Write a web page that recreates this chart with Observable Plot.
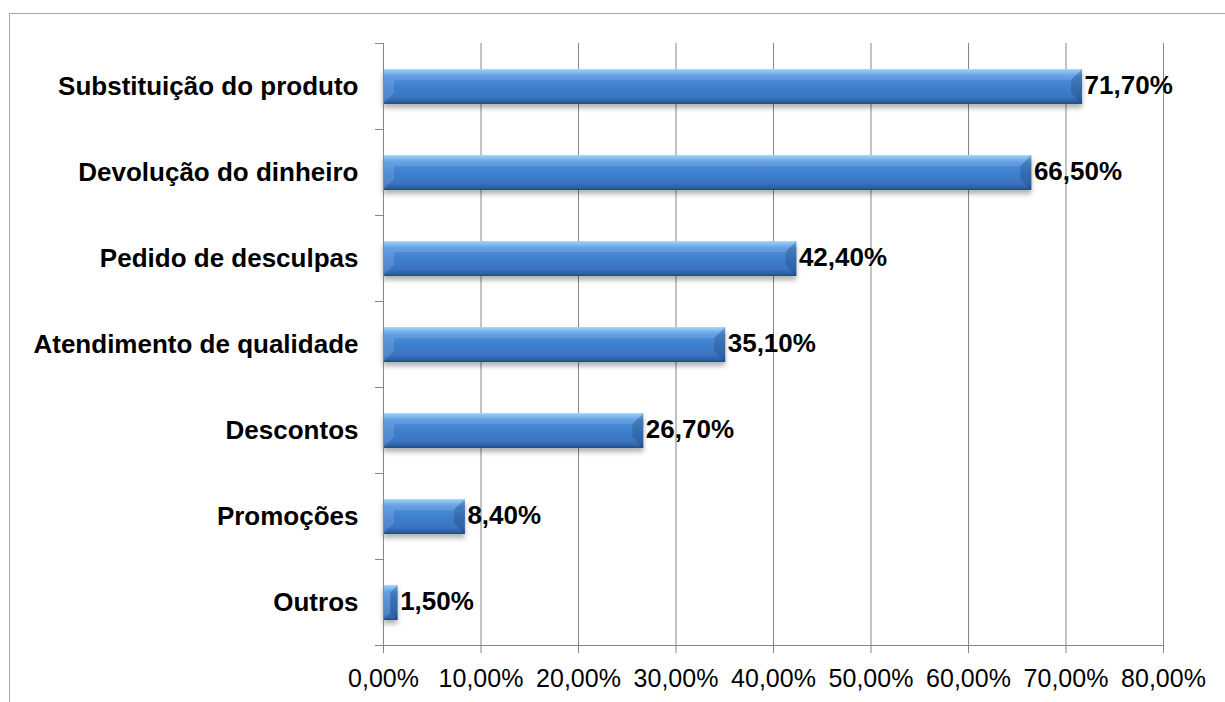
<!DOCTYPE html>
<html><head><meta charset="utf-8">
<script src="https://cdn.jsdelivr.net/npm/d3@7"></script>
<script src="https://cdn.jsdelivr.net/npm/@observablehq/plot@0.6"></script>
<style>
body{margin:0;background:#fff;width:1225px;height:702px;overflow:hidden;position:relative;font-family:"Liberation Sans",Arial,sans-serif}
#frame{position:absolute;left:9px;top:13px;width:1300px;height:800px;border-top:1px solid #a6a6a6;border-left:1px solid #a6a6a6}
#chart{position:absolute;left:0;top:0}
</style></head><body><div id="frame"></div><div id="chart"></div>
<script>
const categories = ["Substituição do produto","Devolução do dinheiro","Pedido de desculpas","Atendimento de qualidade","Descontos","Promoções","Outros"];
const values = [71.7, 66.5, 42.4, 35.1, 26.7, 8.4, 1.5];
const xTicks = [0, 10, 20, 30, 40, 50, 60, 70, 80];
const data = categories.map((c, i) => ({category: c, value: values[i]}));
const fmt = v => v.toFixed(2).replace(".", ",") + "%";

const chart = Plot.plot({
  width: 1225, height: 702,
  marginLeft: 383, marginRight: 62, marginTop: 43, marginBottom: 56,
  style: {fontFamily: '"Liberation Sans", Arial, sans-serif', background: "transparent", color: "#868686", overflow: "visible"},
  x: {domain: [0, 80], label: null},
  y: {domain: categories, paddingInner: 0.59, paddingOuter: 0.295, label: null},
  marks: [
    Plot.gridX(xTicks, {stroke: "#868686", strokeOpacity: 1}),
    Plot.barX(data, {x: "value", y: "category", fill: "url(#barGrad)"}),
    Plot.text(data, {x: "value", y: "category", text: d => fmt(d.value), textAnchor: "start", dx: 2, dy: -1, fontSize: 26, fontWeight: "bold", fill: "black"}),
    Plot.axisX(xTicks, {tickFormat: fmt, tickSize: 7, tickPadding: 16, fontSize: 25, stroke: "#868686", fill: "black"}),
    Plot.axisY({tickSize: 0, tickPadding: 25, fontSize: 26, fontWeight: "bold", fill: "black"}),
    Plot.ruleX([0], {stroke: "#868686"})
  ]
});
document.getElementById("chart").appendChild(chart);

const svg = d3.select(chart);
const defs = svg.insert("defs", ":first-child");
const g = defs.append("linearGradient").attr("id", "barGrad").attr("x1", 0).attr("y1", 0).attr("x2", 0).attr("y2", 1);
[[0, "#a3d1f7"], [0.07, "#79b9f0"], [0.2, "#4f93de"], [0.5, "#3f80cf"], [0.8, "#3a75c2"], [0.92, "#2f62a6"], [1, "#254c82"]]
  .forEach(([o, c]) => g.append("stop").attr("offset", o).attr("stop-color", c));
const f = defs.append("filter").attr("id", "shadow").attr("x", "-10%").attr("y", "-30%").attr("width", "120%").attr("height", "180%");
f.append("feDropShadow").attr("dx", 0).attr("dy", 4).attr("stdDeviation", 2.5).attr("flood-color", "#000").attr("flood-opacity", 0.3);

const barG = svg.select('g[aria-label="bar"]').attr("filter", "url(#shadow)");
barG.selectAll("rect").each(function() {
  const r = d3.select(this);
  const x = +r.attr("x"), y = +r.attr("y"), w = +r.attr("width"), h = +r.attr("height");
  const b = Math.min(11, w / 2, h / 3);
  barG.append("polygon").attr("points", [[x, y], [x + b, y + b], [x + b, y + h - b], [x, y + h]].join(" ")).attr("fill", "#fff").attr("fill-opacity", 0.12);
  barG.append("polygon").attr("points", [[x + w, y], [x + w - b, y + b], [x + w - b, y + h - b], [x + w, y + h]].join(" ")).attr("fill", "#000").attr("fill-opacity", 0.15);
  barG.append("polygon").attr("points", [[x, y], [x + w, y], [x + w - b, y + b], [x + b, y + b]].join(" ")).attr("fill", "#fff").attr("fill-opacity", 0.12);
});

const xs = chart.scale("x"), ys = chart.scale("y");
const x0 = xs.apply(0), x1 = xs.apply(80);
const bounds = categories.map(c => ys.apply(c) + ys.bandwidth / 2 - ys.step / 2);
bounds.push(ys.apply(categories[categories.length - 1]) + ys.bandwidth / 2 + ys.step / 2);
const ax = svg.append("g").attr("stroke", "#868686");
bounds.forEach(yb => ax.append("line").attr("x1", x0 - 8).attr("x2", x0).attr("y1", yb).attr("y2", yb));
ax.append("line").attr("x1", x0 - 8).attr("x2", x1).attr("y1", bounds[bounds.length - 1]).attr("y2", bounds[bounds.length - 1]);
</script></body></html>
